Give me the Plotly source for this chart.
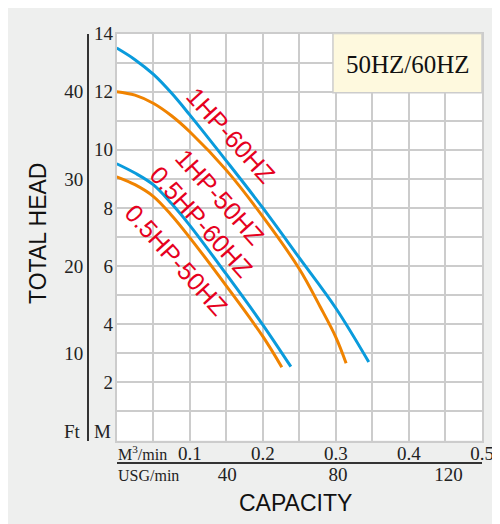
import plotly.graph_objects as go

# ---- data (Q in m3/min, H in metres) ----
q_1hp_60 = [0, 0.025, 0.05, 0.075, 0.10, 0.15, 0.20, 0.25, 0.30, 0.345]
h_1hp_60 = [13.5, 13.1, 12.6, 11.95, 11.2, 9.62, 8.0, 6.28, 4.55, 2.7]

q_1hp_50 = [0, 0.025, 0.05, 0.075, 0.10, 0.15, 0.20, 0.25, 0.2785, 0.30, 0.314]
h_1hp_50 = [12.0, 11.88, 11.6, 11.17, 10.62, 9.3, 7.7, 5.9, 4.6, 3.55, 2.66]

q_05hp_60 = [0, 0.025, 0.05, 0.075, 0.10, 0.15, 0.20, 0.2384]
h_05hp_60 = [9.52, 9.2, 8.8, 8.15, 7.4, 5.72, 3.98, 2.54]

q_05hp_50 = [0, 0.025, 0.05, 0.075, 0.10, 0.15, 0.20, 0.226]
h_05hp_50 = [9.07, 8.8, 8.4, 7.75, 6.98, 5.32, 3.58, 2.52]

curve_names = ["1HP-60HZ", "1HP-50HZ", "0.5HP-60HZ", "0.5HP-50HZ"]
label_q = [0.1562, 0.1416, 0.1165, 0.0822]
label_h = [10.51, 8.38, 7.52, 6.21]

x_ticks = [0, 0.05, 0.1, 0.15, 0.2, 0.25, 0.3, 0.35, 0.4, 0.45, 0.5]
x_ticktext = ["", "", "0.1", "", "0.2", "", "0.3", "", "0.4", "", "0.5"]
y_ticks = list(range(0, 15))
y_ticktext = ["" if (v % 2 or v == 0) else str(v) for v in y_ticks]
ft_ticks = [10, 20, 30, 40]
usg_ticks = [40, 80, 120]

BLUE = "#0A9BDC"
ORANGE = "#F08300"
RED = "#E60020"
GRID = "#CCCCCC"
BG = "#EEEFEE"
SERIF = "Liberation Serif"
SANS = "Liberation Sans"

fig = go.Figure()
for q, h, c in [(q_1hp_60, h_1hp_60, BLUE), (q_1hp_50, h_1hp_50, ORANGE),
                (q_05hp_60, h_05hp_60, BLUE), (q_05hp_50, h_05hp_50, ORANGE)]:
    fig.add_trace(go.Scatter(x=q, y=h, mode="lines", line=dict(color=c, width=3, shape="spline", smoothing=1.0),
                             showlegend=False, hoverinfo="skip"))

# dummy traces so secondary axes are drawn
fig.add_trace(go.Scatter(x=[0], y=[0], yaxis="y2", mode="markers", marker=dict(opacity=0), showlegend=False, hoverinfo="skip"))
fig.add_trace(go.Scatter(x=[0], y=[0], xaxis="x2", mode="markers", marker=dict(opacity=0), showlegend=False, hoverinfo="skip"))

W, H = 500, 524
OX, OY = 8, 8  # page offset of the figure (body margin)
ml, mr, mt, mb = 60, 26, 25, 40
pw, ph = W - ml - mr, H - mt - mb


def px_x(px):
    return (px - OX - ml) / pw


def px_y(py):
    return (H - mb - (py - OY)) / ph


xdom = [px_x(116.7), px_x(482)]
ydom = [px_y(440.5), px_y(33.5)]
tf = dict(family=SERIF, size=19, color="#222")

fig.update_layout(
    width=W, height=H,
    margin=dict(l=ml, r=mr, t=mt, b=mb, autoexpand=False),
    paper_bgcolor=BG, plot_bgcolor="white",
    xaxis=dict(domain=xdom, range=[0, 0.5], tickvals=x_ticks, ticktext=x_ticktext, automargin=False,
               showgrid=True, gridcolor=GRID, gridwidth=1.5, zeroline=False, ticklabelstandoff=-5,
               showline=True, mirror=True, linecolor=GRID, linewidth=2, ticks="", tickfont=tf),
    yaxis=dict(domain=ydom, range=[0, 14], tickvals=y_ticks, ticktext=y_ticktext, automargin=False,
               showgrid=True, gridcolor=GRID, gridwidth=1.5, zeroline=False, ticklabelstandoff=-2,
               showline=True, mirror=True, linecolor=GRID, linewidth=2, ticks="", tickfont=tf),
    yaxis2=dict(domain=ydom, range=[0, 14 * 40 / 12], tickvals=ft_ticks, overlaying="y", automargin=False,
                anchor="free", position=px_x(88), side="left", showgrid=False, zeroline=False,
                showline=True, linecolor="#333", linewidth=2, ticks="", tickfont=tf),
    xaxis2=dict(domain=xdom, range=[0, 0.5 * 264.172], tickvals=usg_ticks, overlaying="x", automargin=False,
                anchor="free", position=px_y(463.3), side="bottom", showgrid=False, zeroline=False,
                ticklabelstandoff=-6,
                showline=True, linecolor="#333", linewidth=2, ticks="", tickfont=tf),
    shapes=[
        dict(type="rect", xref="x", yref="y", x0=0.296, x1=0.5, y0=11.96, y1=14,
             fillcolor="#FEF9DE", line=dict(color="#CCCCCC", width=1.5), layer="above"),
    ],
)

ann = []
for name, q, h in zip(curve_names, label_q, label_h):
    ann.append(dict(x=q, y=h, xref="x", yref="y", text=name, showarrow=False, textangle=48,
                    xanchor="center", yanchor="middle",
                    font=dict(family=SANS, size=25, color=RED)))
ann.append(dict(x=0.3986, y=12.92, xref="x", yref="y", text="50HZ/60HZ", showarrow=False,
                xanchor="center", yanchor="middle",
                font=dict(family=SERIF, size=25, color="#111")))
ann.append(dict(x=px_x(113), y=px_y(431), xref="paper", yref="paper", text="M", showarrow=False,
                xanchor="right", yanchor="middle", font=tf))
ann.append(dict(x=px_x(83), y=px_y(431), xref="paper", yref="paper", text="Ft", showarrow=False,
                xanchor="right", yanchor="middle", font=tf))
ann.append(dict(x=px_x(116), y=px_y(453), xref="paper", yref="paper", text="M<sup>3</sup>/min", showarrow=False,
                xanchor="left", yanchor="middle", font=dict(family=SERIF, size=16, color="#222")))
ann.append(dict(x=px_x(116), y=px_y(475), xref="paper", yref="paper", text="USG/min", showarrow=False,
                xanchor="left", yanchor="middle", font=dict(family=SERIF, size=16, color="#222")))
ann.append(dict(x=px_x(295), y=px_y(503), xref="paper", yref="paper", text="CAPACITY", showarrow=False,
                xanchor="center", yanchor="middle", font=dict(family=SANS, size=23, color="#111")))
ann.append(dict(x=px_x(38), y=px_y(234), xref="paper", yref="paper", text="TOTAL HEAD", showarrow=False,
                xanchor="center", yanchor="middle",
                textangle=-90, font=dict(family=SANS, size=23, color="#111")))
fig.update_layout(annotations=ann)

fig.write_html("out.html")
